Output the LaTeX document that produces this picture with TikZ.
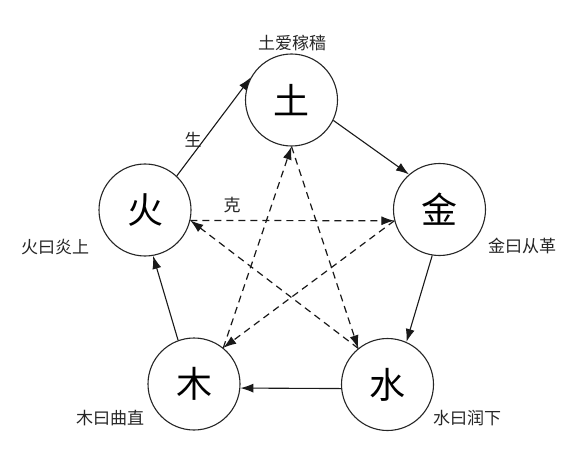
\documentclass[tikz,border=0pt]{standalone}
\usepackage{fontspec}
\newfontfamily\cjk{Noto Sans CJK SC}
\usetikzlibrary{arrows.meta}
\begin{document}
\begin{tikzpicture}[x=1pt,y=-1pt,
  elem/.style={circle,draw=black!85,line width=1.1pt,minimum size=92pt,inner sep=0pt,font=\cjk\fontsize{36}{40}\selectfont},
  lbl/.style={font=\cjk\fontsize{17}{20}\selectfont,text=black!85,inner sep=0pt},
  gen/.style={line width=1.1pt,draw=black!90,-{Latex[length=13pt,width=9pt]}},
  ke/.style={line width=1.2pt,draw=black!90,dash pattern=on 7pt off 5pt,-{Latex[length=13pt,width=9pt]}}]
\useasboundingbox (0,0) rectangle (583,449);
\fill[white] (0,0) rectangle (583,449);
\node[elem] (tu) at (291.5,100) {土};
\node[elem] (huo) at (145,210) {火};
\node[elem] (jin) at (439.5,209.5) {金};
\node[elem] (mu) at (194,384) {木};
\node[elem] (shui) at (387.5,384.5) {水};
\node[lbl] (ltu) at (292,43) {土爱稼穑};
\node[lbl] (lhuo) at (55,247) {火曰炎上};
\node[lbl] (ljin) at (522,246) {金曰从革};
\node[lbl] (lmu) at (110,418) {木曰曲直};
\node[lbl] (lshui) at (467,418) {水曰润下};
\node[lbl] (sheng) at (193,140) {生};
\node[lbl] (kelbl) at (232,205) {克};
% generating cycle
\draw[gen] (huo.47) -- (tu.151);
\draw[gen] (tu.-26) -- (jin.131);
\draw[gen] (jin.-99) -- (shui.66);
\draw[gen] (shui.185) -- (mu.-5);
\draw[gen] (mu.110) -- (huo.-80);
% overcoming cycle
\coordinate (T) at (tu.south);
\coordinate (F) at (huo.-13);
\coordinate (J) at (jin.194);
\coordinate (M) at (mu.51);
\coordinate (S) at (shui.129);
\draw[ke] (F) -- (J);
\draw[ke] (J) -- (M);
\draw[ke] (M) -- (T);
\draw[ke] (T) -- (S);
\draw[ke] (S) -- (F);
\end{tikzpicture}
\end{document}
